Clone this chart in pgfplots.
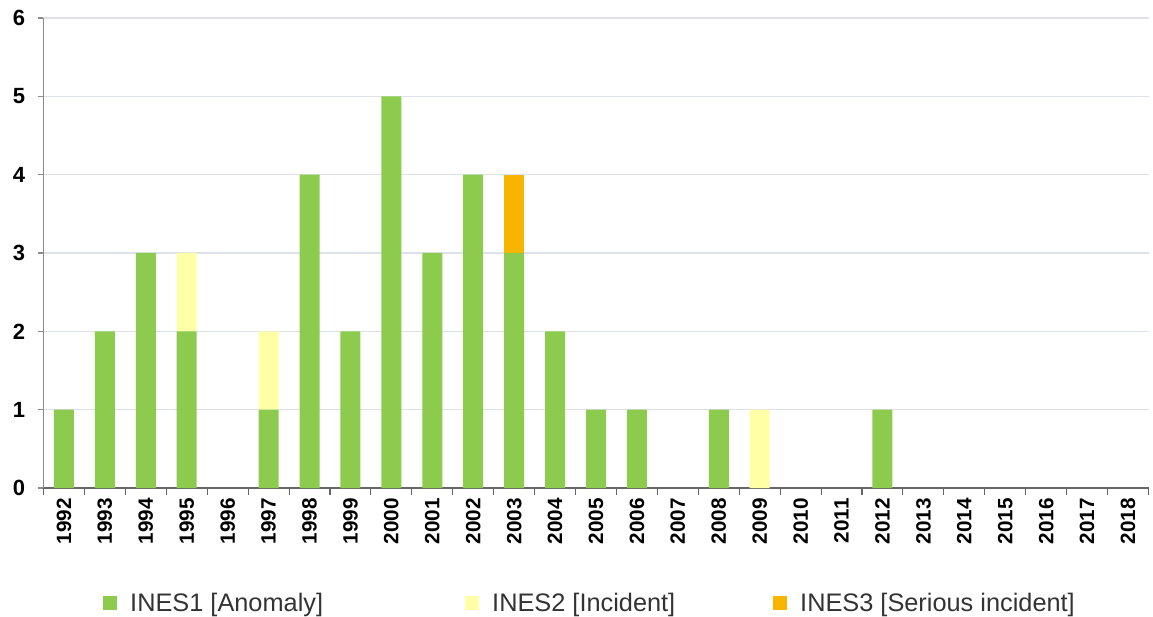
\documentclass[border=0pt]{standalone}
\usepackage{pgfplots}
\pgfplotsset{compat=1.18}
\usepackage{fontspec}
\setmainfont{Liberation Sans}
\definecolor{ines1}{HTML}{8DCB4E}
\definecolor{ines2}{HTML}{FFFFA6}
\definecolor{ines3}{HTML}{F7B500}
\definecolor{gridc}{HTML}{DDE2EA}
\begin{document}
\begin{tikzpicture}
\begin{axis}[
  name=ax,
  scale only axis,
  width=828.75pt, height=352.5pt,
  ybar stacked, bar width=15pt,
  xmin=-0.5, xmax=26.5, ymin=0, ymax=6,
  xtick={0,...,26},
  xticklabels={1992,1993,1994,1995,1996,1997,1998,1999,2000,2001,2002,2003,2004,2005,2006,2007,2008,2009,2010,2011,2012,2013,2014,2015,2016,2017,2018},
  minor xtick={-0.5,0.5,...,26.5},
  ytick={0,...,6},
  /pgf/number format/assume math mode=true,
  axis x line*=bottom, axis y line*=left,
  axis line style={-},
  x axis line style={draw=black!60, line width=1.1pt},
  y axis line style={draw=black!45, line width=1pt},
  tick align=outside,
  major x tick style={draw=none},
  minor x tick style={draw=black!60, line width=0.8pt},
  minor tick length=5pt,
  major tick length=4.5pt,
  y tick style={draw=black!45, line width=0.8pt},
  ymajorgrids, major grid style={gridc, line width=0.8pt},
  xticklabel style={font=\bfseries\fontsize{15.5}{17}\selectfont, yshift=-3pt, rotate=90, anchor=east, inner sep=0pt},
  yticklabel style={font=\bfseries\fontsize{16.5}{18}\selectfont, anchor=east, inner sep=0pt, xshift=-9pt},
  legend columns=3,
  legend style={draw=none, fill=none, inner sep=0pt,
    at={(axis description cs:0,0)}, anchor=west, xshift=44.6pt, yshift=-86.25pt,
    font=\fontsize{19}{22}\selectfont, text=black!80,
    nodes={inner sep=0pt},
    /tikz/every odd column/.append style={column sep=9.75pt},
    /tikz/every even column/.append style={column sep=0pt}},
  legend cell align=left,
]
\addplot[fill=ines1, draw=none, legend image code/.code={\fill[ines1] (0pt,-5.25pt) rectangle (10.5pt,5.25pt);}] coordinates {
(0,1) (1,2) (2,3) (3,2) (4,0) (5,1) (6,4) (7,2) (8,5) (9,3) (10,4) (11,3) (12,2) (13,1) (14,1) (15,0) (16,1) (17,0) (18,0) (19,0) (20,1) (21,0) (22,0) (23,0) (24,0) (25,0) (26,0)};
\addlegendentry{\makebox[251.25pt][l]{INES1 [Anomaly]}}
\addplot[fill=ines2, draw=none, legend image code/.code={\fill[ines2] (0pt,-5.25pt) rectangle (10.5pt,5.25pt);}] coordinates {
(0,0) (1,0) (2,0) (3,1) (4,0) (5,1) (6,0) (7,0) (8,0) (9,0) (10,0) (11,0) (12,0) (13,0) (14,0) (15,0) (16,0) (17,1) (18,0) (19,0) (20,0) (21,0) (22,0) (23,0) (24,0) (25,0) (26,0)};
\addlegendentry{\makebox[210.75pt][l]{INES2 [Incident]}}
\addplot[fill=ines3, draw=none, legend image code/.code={\fill[ines3] (0pt,-5.25pt) rectangle (10.5pt,5.25pt);}] coordinates {
(0,0) (1,0) (2,0) (3,0) (4,0) (5,0) (6,0) (7,0) (8,0) (9,0) (10,0) (11,1) (12,0) (13,0) (14,0) (15,0) (16,0) (17,0) (18,0) (19,0) (20,0) (21,0) (22,0) (23,0) (24,0) (25,0) (26,0)};
\addlegendentry{INES3 [Serious incident]}
\end{axis}
\pgfresetboundingbox
\path (ax.south west) +(-32.625pt,366pt) +(832.125pt,-96.75pt);
\end{tikzpicture}
\end{document}
